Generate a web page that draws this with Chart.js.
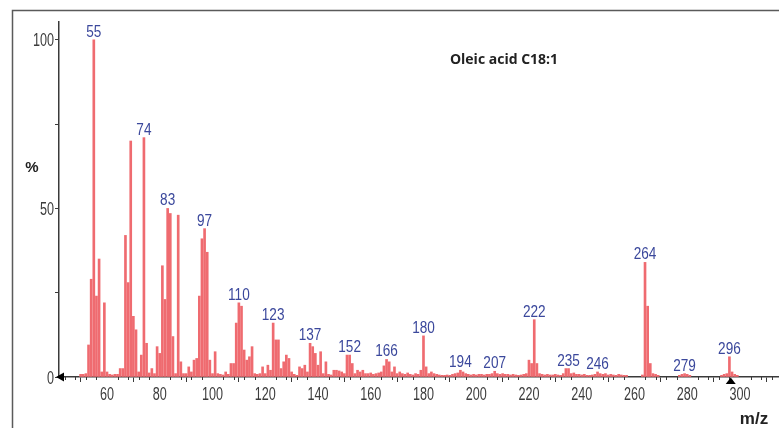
<!DOCTYPE html>
<html>
<head>
<meta charset="utf-8">
<script src="https://cdn.jsdelivr.net/npm/chart.js@4"></script>
<style>
html, body { margin: 0; padding: 0; background: #fff; }
#wrap { width: 779px; height: 428px; }
</style>
</head>
<body>
<div id="wrap"><canvas id="spectrum"></canvas></div>
<script>
// m/z values and relative abundance (%)
const mz = [
  50, 51, 52, 53, 54, 55, 56, 57, 58, 59,
  60, 61, 62, 63, 64, 65, 66, 67, 68, 69,
  70, 71, 72, 73, 74, 75, 76, 77, 78, 79,
  80, 81, 82, 83, 84, 85, 86, 87, 88, 89,
  90, 91, 92, 93, 94, 95, 96, 97, 98, 99,
  100, 101, 102, 103, 104, 105, 106, 107, 108, 109,
  110, 111, 112, 113, 114, 115, 116, 117, 118, 119,
  120, 121, 122, 123, 124, 125, 126, 127, 128, 129,
  130, 131, 132, 133, 134, 135, 136, 137, 138, 139,
  140, 141, 142, 143, 144, 145, 146, 147, 148, 149,
  150, 151, 152, 153, 154, 155, 156, 157, 158, 159,
  160, 161, 162, 163, 164, 165, 166, 167, 168, 169,
  170, 171, 172, 173, 174, 175, 176, 177, 178, 179,
  180, 181, 182, 183, 184, 185, 186, 187, 188, 189,
  190, 191, 192, 193, 194, 195, 196, 197, 198, 199,
  200, 201, 202, 203, 204, 205, 206, 207, 208, 209,
  210, 211, 212, 213, 214, 215, 216, 217, 218, 219,
  220, 221, 222, 223, 224, 225, 226, 227, 228, 229,
  230, 231, 232, 233, 234, 235, 236, 237, 238, 239,
  240, 241, 242, 243, 244, 245, 246, 247, 248, 249,
  250, 251, 252, 253, 254, 255, 256, 257, 263, 264,
  265, 266, 267, 268, 269, 277, 278, 279, 280, 281,
  293, 294, 295, 296, 297, 298, 299
];
const abundance = [
  0.8, 0.8, 1.0, 9.5, 29, 100, 24, 35, 1.5, 22,
  1.5, 0.8, 0.6, 0.8, 0.8, 2.5, 2.5, 42, 28, 70,
  18, 14, 1.5, 6.5, 71, 10, 1.2, 2.5, 1, 9,
  7, 33, 23, 50, 48.5, 12, 1, 48, 4.5, 1,
  1, 3, 1.5, 5, 5.5, 24, 41, 44, 37, 5,
  1, 7.5, 1, 0.8, 0.6, 1.5, 0.8, 4, 4, 16,
  22, 21, 8, 5, 6, 9, 1, 0.8, 1, 3,
  1, 3.5, 2, 16, 11, 11, 2.5, 4.5, 6.5, 5.5,
  1.5, 0.8, 0.5, 3, 2.5, 3.5, 1.5, 10, 9, 7,
  3.5, 7.5, 1, 4.5, 0.8, 0.6, 2, 2, 1.8, 1.5,
  1, 6.5, 6.5, 4, 1, 2, 1.5, 2, 1, 1,
  1.2, 0.8, 1, 1.2, 1.5, 3.3, 5.2, 4.5, 1.5, 3,
  1, 1.5, 1, 0.8, 1.2, 0.8, 0.6, 1, 0.8, 2,
  12.2, 3, 1, 1.5, 1, 0.8, 0.6, 0.5, 0.5, 0.6,
  0.5, 0.8, 1, 1.2, 2, 1.5, 1, 0.8, 0.6, 0.8,
  0.6, 0.8, 0.8, 0.6, 0.8, 0.8, 1, 1.7, 1, 0.8,
  1, 0.8, 0.8, 0.6, 0.8, 0.6, 0.5, 0.6, 0.8, 1,
  5, 4, 17, 4, 1, 0.8, 0.6, 0.8, 0.6, 0.6,
  0.8, 0.6, 0.5, 1, 2.5, 2.5, 1, 1.2, 0.8, 0.8,
  0.6, 0.8, 0.5, 0.5, 0.6, 0.8, 1.5, 1, 0.8, 1,
  0.6, 0.8, 0.6, 0.5, 0.8, 0.6, 0.5, 0.5, 0.6, 34,
  21, 4, 1, 0.8, 0.5, 0.5, 0.8, 1, 0.8, 0.5,
  0.5, 0.8, 1, 6, 1.5, 0.8, 0.5
];
const peakLabels = [55, 74, 83, 97, 110, 123, 137, 152, 166, 180, 194, 207, 222, 235, 246, 264, 279, 296];
const xTicks = [60, 80, 100, 120, 140, 160, 180, 200, 220, 240, 260, 280, 300];
const yTicks = [0, 25, 50, 75, 100];
const yTickLabels = ['0', '', '50', '', '100'];
const title = 'Oleic acid C18:1';
const markerMz = 296.5;

const labelFont = '18px "Liberation Sans", Arial, sans-serif';
const axisColor = '#3a3a3a';

// condensed text, like the instrument software prints it
function narrowText(ctx, text, x, y, align, squeeze) {
    ctx.save();
    ctx.translate(x, y);
    ctx.scale(squeeze, 1);
    ctx.textAlign = align;
    ctx.textBaseline = 'alphabetic';
    ctx.fillText(text, 0, 0);
    ctx.restore();
}

const decor = {
    id: 'decor',
    afterDraw(chart) {
        const ctx = chart.ctx;
        const xs = chart.scales.x;
        const ys = chart.scales.y;
        const base = ys.getPixelForValue(0);
        ctx.save();

        // outer frame (left + top)
        ctx.strokeStyle = '#5a5a5a';
        ctx.lineWidth = 1.5;
        ctx.beginPath();
        ctx.moveTo(12.5, 428);
        ctx.lineTo(12.5, 10.5);
        ctx.lineTo(779, 10.5);
        ctx.stroke();

        // minor ticks on m/z axis
        ctx.strokeStyle = axisColor;
        ctx.lineWidth = 1;
        for (let m = 44; m <= 312; m += 4) {
            if (m % 20 === 0) continue;
            const px = Math.round(xs.getPixelForValue(m)) + 0.5;
            ctx.beginPath();
            ctx.moveTo(px, base);
            ctx.lineTo(px, base + 3);
            ctx.stroke();
        }

        // arrow at the left end of the m/z axis
        ctx.fillStyle = '#000';
        ctx.beginPath();
        ctx.moveTo(56, base);
        ctx.lineTo(64, base - 4.5);
        ctx.lineTo(64, base + 4.5);
        ctx.closePath();
        ctx.fill();

        // marker triangle under the molecular ion
        const mx = xs.getPixelForValue(markerMz);
        ctx.beginPath();
        ctx.moveTo(mx, base + 0.5);
        ctx.lineTo(mx - 5, base + 7);
        ctx.lineTo(mx + 5, base + 7);
        ctx.closePath();
        ctx.fill();

        // tick labels
        ctx.font = labelFont;
        ctx.fillStyle = '#3c3c3c';
        xTicks.forEach(v => narrowText(ctx, String(v), xs.getPixelForValue(v), base + 23, 'center', 0.7));
        yTicks.forEach((v, i) => {
            if (yTickLabels[i]) narrowText(ctx, yTickLabels[i], 54, ys.getPixelForValue(v) + 6.5, 'right', 0.7);
        });

        // peak labels
        ctx.fillStyle = '#3b489c';
        ctx.font = '17px "Liberation Sans", Arial, sans-serif';
        peakLabels.forEach(m => {
            const i = mz.indexOf(m);
            narrowText(ctx, String(m), xs.getPixelForValue(m), ys.getPixelForValue(abundance[i]) - 3, 'center', 0.8);
        });

        // texts
        ctx.fillStyle = '#222';
        ctx.textAlign = 'center';
        ctx.textBaseline = 'alphabetic';
        ctx.font = 'bold 14px "Open Sans", sans-serif';
        ctx.fillText(title, 504, 64);
        ctx.font = 'bold 15px "Liberation Sans", sans-serif';
        ctx.fillText('%', 32, 172);
        ctx.font = 'bold 17px "Liberation Sans", sans-serif';
        ctx.fillText('m/z', 754, 424);
        ctx.restore();
    }
};

const points = mz.map((m, i) => ({ x: m, y: abundance[i] }));

new Chart(document.getElementById('spectrum'), {
    type: 'bar',
    data: {
        datasets: [
            {
                data: points,
                backgroundColor: '#ef6b70',
                borderWidth: 0,
                barThickness: 2
            }
        ]
    },
    options: {
        responsive: true,
        maintainAspectRatio: false,
        animation: false,
        layout: { padding: { top: 22, right: 0, left: 0, bottom: 0 } },
        plugins: {
            legend: { display: false },
            tooltip: { enabled: false }
        },
        scales: {
            x: {
                type: 'linear',
                min: 41.8,
                max: 314.8,
                offset: false,
                afterBuildTicks: s => { s.ticks = xTicks.map(v => ({ value: v })); },
                afterFit: s => { s.height = 51; },
                grid: { drawOnChartArea: false, drawTicks: true, tickLength: 5, tickColor: axisColor, tickWidth: 1 },
                border: { display: true, color: axisColor, width: 1.5 },
                ticks: { display: false }
            },
            y: {
                min: 0,
                max: 105.3,
                afterBuildTicks: s => { s.ticks = yTicks.map(v => ({ value: v })); },
                afterFit: s => { s.width = 59; },
                grid: { drawOnChartArea: false, drawTicks: true, tickLength: 4, tickColor: axisColor, tickWidth: 1 },
                border: { display: true, color: axisColor, width: 1.5 },
                ticks: { display: false }
            }
        }
    },
    plugins: [decor]
});
</script>
</body>
</html>
